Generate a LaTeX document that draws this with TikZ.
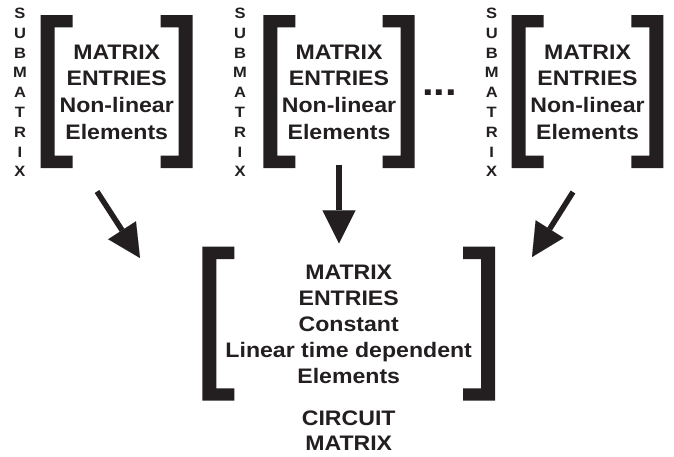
\documentclass[tikz,border=0pt]{standalone}
\usepackage{fontspec}
\setmainfont{Liberation Sans}[FakeStretch=1.1]
\usetikzlibrary{arrows.meta}
\definecolor{ink}{HTML}{231F20}

% a pair of square brackets: left outer x, right outer x, top y, bottom y
\newcommand\bracketpair[4]{%
  \fill[ink] (#1,#3) -- ++(32,0) -- ++(0,12.3) -- ++(-18,0)
    -- ++(0,{#4-#3-24.6}) -- ++(18,0) -- ++(0,12.3) -- ++(-32,0) -- cycle;
  \fill[ink] (#2,#3) -- ++(-32,0) -- ++(0,12.3) -- ++(18,0)
    -- ++(0,{#4-#3-24.6}) -- ++(-18,0) -- ++(0,12.3) -- ++(32,0) -- cycle;
}

\tikzset{
  entries/.style={font=\fontsize{21}{26.7}\selectfont\bfseries, align=center,
    inner sep=0pt, text=ink},
  bigentries/.style={font=\fontsize{21}{26}\selectfont\bfseries, align=center,
    inner sep=0pt, text=ink},
  title/.style={font=\fontsize{21}{25}\selectfont\bfseries, align=center,
    inner sep=0pt, text=ink},
  vlabel/.style={font=\fontsize{15}{19.8}\selectfont\bfseries, align=center,
    inner sep=0pt, text=ink},
  ellipsis/.style={font=\fontsize{38}{38}\selectfont\bfseries, inner sep=0pt,
    text=ink, anchor=base},
  feed/.style={draw=ink, line width=5.5pt,
    -{Triangle[length=33pt, width=33pt, line width=0.01pt]}}
}

\begin{document}
\begin{tikzpicture}[x=1pt, y=-1pt]
  \path[use as bounding box] (0,0) rectangle (674,456);

  % submatrices
  \bracketpair{40.7}{192.7}{15}{168}
  \bracketpair{263.3}{414.7}{15}{168}
  \bracketpair{511.7}{663.3}{15}{168}

  \node[vlabel]  (sub1) at (20,92.5)    {S\\U\\B\\M\\A\\T\\R\\I\\X};
  \node[vlabel]  (sub2) at (240,92.5)   {S\\U\\B\\M\\A\\T\\R\\I\\X};
  \node[vlabel]  (sub3) at (491.7,92.5) {S\\U\\B\\M\\A\\T\\R\\I\\X};

  \node[entries] (m1) at (116.7,92) {MATRIX\\ENTRIES\\Non-linear\\Elements};
  \node[entries] (m2) at (339,92)   {MATRIX\\ENTRIES\\Non-linear\\Elements};
  \node[entries] (m3) at (587.5,92) {MATRIX\\ENTRIES\\Non-linear\\Elements};

  \node[ellipsis] (dots) at (439.7,95) {...};

  % circuit matrix
  \bracketpair{202.3}{495}{246.7}{400.7}
  \node[bigentries] (cm) at (348.7,324.7)
    {MATRIX\\ENTRIES\\Constant\\Linear time dependent\\Elements};
  \node[title] (ct) at (348.7,430.5) {CIRCUIT\\MATRIX};

  % assembly arrows
  \coordinate (a1s) at (97,191.5);
  \coordinate (a1e) at (140,258);
  \coordinate (a2s) at (339,165);
  \coordinate (a2e) at (339,243.3);
  \coordinate (a3s) at (573,192);
  \coordinate (a3e) at (532,257);
  \draw[feed] (a1s) -- (a1e);
  \draw[feed] (a2s) -- (a2e);
  \draw[feed] (a3s) -- (a3e);
\end{tikzpicture}
\end{document}
